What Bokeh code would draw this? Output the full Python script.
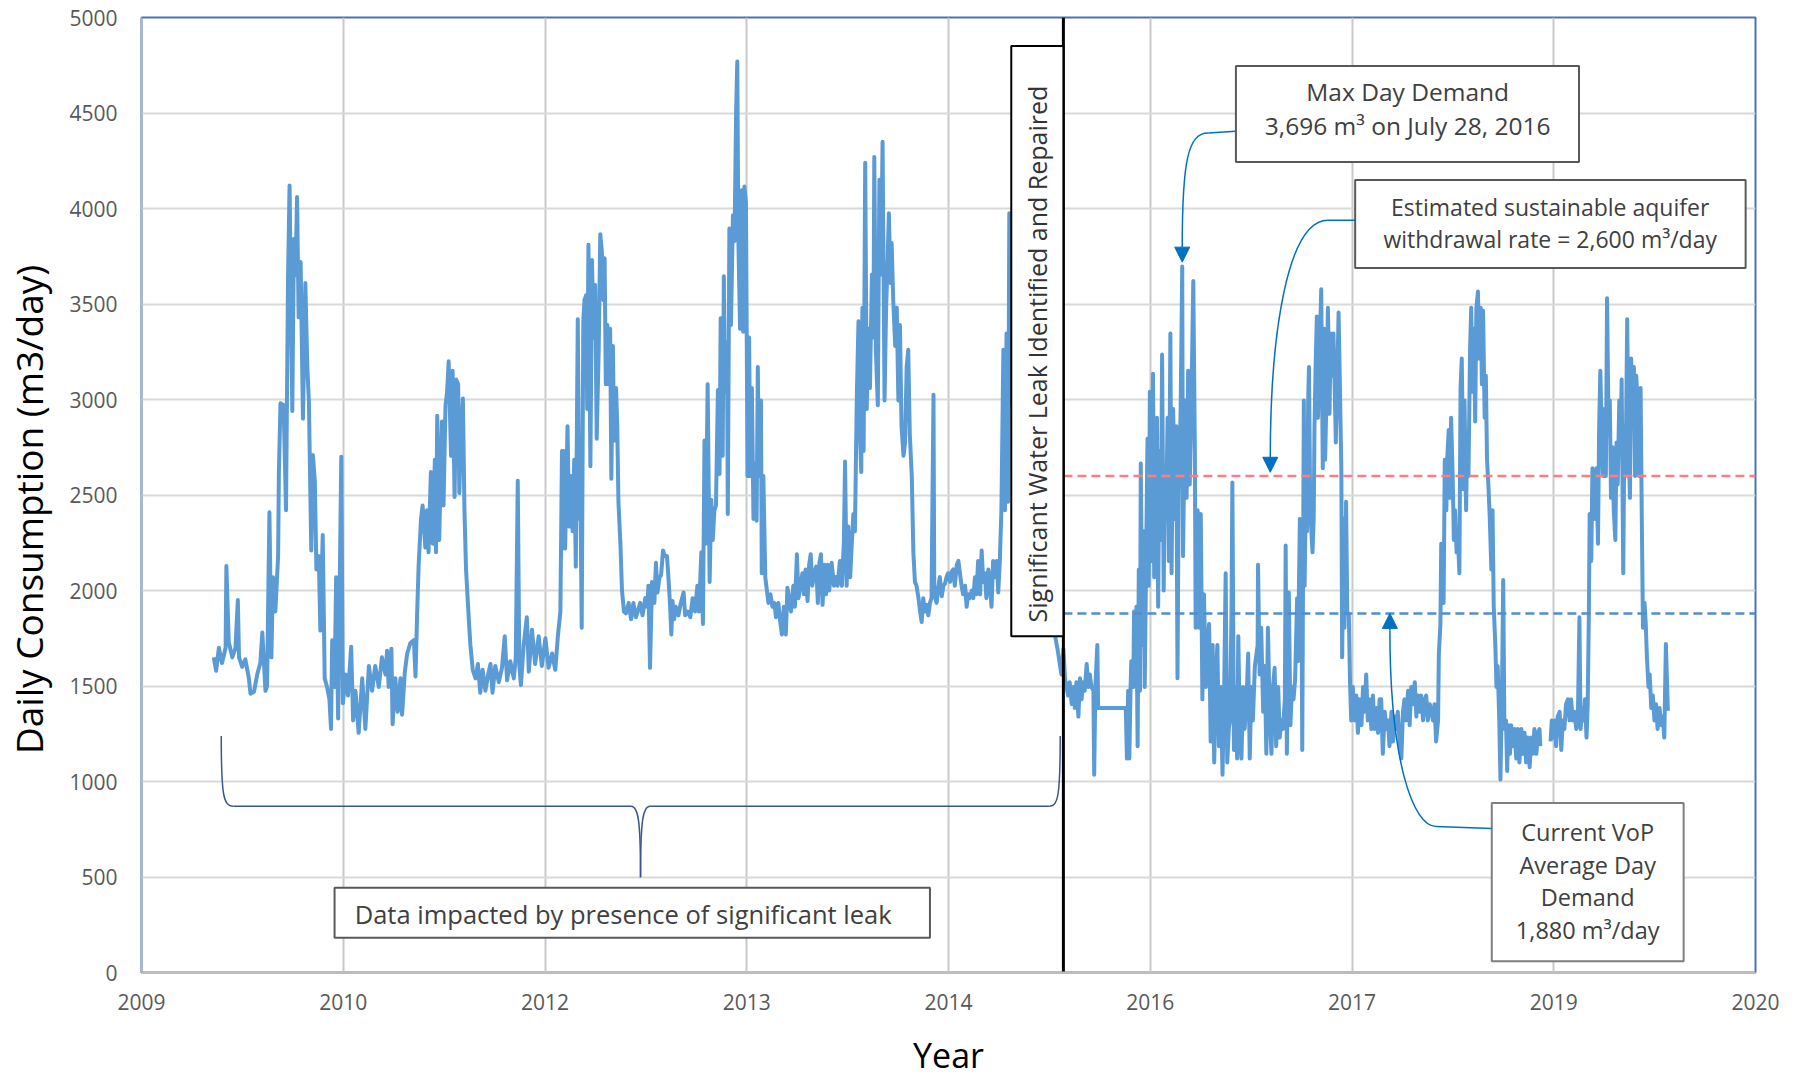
import numpy as np
import pandas as pd
from bokeh.plotting import figure
from bokeh.models import (Range1d, FixedTicker, DatetimeTickFormatter, ColumnDataSource,
                          Arrow, NormalHead)
from bokeh.embed import file_html
from bokeh.resources import INLINE
from bokeh.core.properties import value

# ---------------- data ----------------
AXIS_START = "2009-05-05"        # first axis tick (axis origin)
TICK_STEP_DAYS = 511              # spacing of the x-axis ticks
N_TICKS = 9
Y_TICKS = [0, 500, 1000, 1500, 2000, 2500, 3000, 3500, 4000, 4500, 5000]

# daily consumption (m3/day), sampled readings; x = days after AXIS_START
days_2010_2011 = [183,189,196,204,213,215,221,230,238,244,247,255,263,272,276,285,293,301,306,314,
    318,324,329,333,339,346,348,352,360,366,371,375,382,386,390,394,398,403,409,415,
    420,424,430,434,439,443,449,453,459,464,470,476,480,483,489,493,498,506,510,517,
    523,531,536,542,550,559,567,576,584,592,601,609,618,622,626,633,636,643,649,656,
    660,667,673,681,690,694,698,702,708,712,719,723,727,733,738,743,746,749,754,761,
    765,770,774,778,784,788,793,797,802,805,809,814,818,822,829,833,839,846,852,858,
    864,871,878,884,889,896,905,913,920,926,934,943,948,953,957,961,968,976,981,989,
    997,1006,1014,1023,1031,1040,1048,1055]
vals_2010_2011 = [1650,1580,1700,1620,1700,2128,1730,1650,1700,1950,1650,1600,1640,1540,1460,1470,1560,1620,1780,1475,
    1500,2410,1650,2070,1890,2180,2620,2980,2970,2420,3610,4120,2940,3840,3650,4060,3430,3720,2900,3610,
    3170,2990,2210,2710,2575,2110,2180,1790,2290,1540,1495,1430,1275,1740,1495,2070,1330,2700,1410,1560,
    1450,1705,1320,1475,1255,1540,1275,1605,1475,1605,1495,1650,1560,1685,1495,1695,1300,1540,1365,1540,
    1350,1575,1670,1725,1740,1550,1870,2135,2375,2445,2225,2420,2200,2620,2245,2685,2200,2915,2265,2885,
    2445,2970,3040,3200,2705,3150,2490,3105,3080,2510,2815,3005,2420,2110,1850,1715,1585,1540,1615,1465,
    1585,1475,1560,1615,1465,1605,1520,1595,1760,1530,1630,1540,1650,2575,1605,1505,1715,1860,1575,1795,
    1615,1760,1605,1750,1595,1670,1585,1770]

days_2012_2013 = [1061,1065,1067,1069,1073,1079,1083,1088,1092,1096,1100,1105,1109,1111,1115,1119,1122,1126,1129,1132,
    1137,1141,1145,1149,1153,1158,1162,1166,1170,1173,1176,1180,1183,1187,1190,1194,1197,1202,1205,1208,
    1213,1217,1222,1227,1234,1240,1246,1252,1257,1263,1269,1276,1281,1284,1288,1293,1299,1303,1307,1312,
    1316,1321,1325,1331,1335,1339,1342,1345,1349,1353,1360,1366,1373,1377,1384,1390,1396,1402,1408,1412,
    1418,1422,1426,1429,1434,1439,1443,1447,1451,1455,1460,1464,1467,1472,1475,1478,1483,1485,1489,1493,
    1498,1502,1506,1509,1512,1516,1520,1524,1527,1531,1535,1539,1542,1546,1550,1554,1558,1561,1564,1569,
    1571,1575,1580,1584,1588,1593,1598,1603,1607,1613,1617,1622,1627,1632,1636,1640,1645,1651,1655,1660,
    1664,1669,1674,1678,1682,1687,1691,1695,1699,1704,1709,1713,1717,1721,1725,1730,1734,1738,1742,1748,
    1754,1759,1763,1769,1774,1779,1782,1786,1790,1795,1799,1803,1807,1812,1816,1820,1823,1826,1829,1833,
    1837,1841,1845,1850,1854,1856,1860,1865,1869,1873,1877,1882,1886,1890,1893,1897,1900,1904,1909,1913,
    1917,1921,1925,1930,1934,1938]
vals_2012_2013 = [1890,2730,2220,2730,2220,2860,2335,2600,2310,2685,2125,3420,2375,2665,1805,3410,3520,3545,2950,3810,
    2650,3730,3325,3600,2795,3260,3865,3775,3520,3740,3080,3390,3080,3370,2585,3280,2785,3060,2860,2465,
    2245,2000,1890,1880,1935,1850,1935,1860,1890,1935,1870,1960,1915,2025,1595,2045,1935,2145,1990,2070,
    2080,2210,2180,2180,2055,1915,1770,1945,1850,1915,1870,1935,1990,1870,1890,1860,1960,1890,2025,1890,
    2200,1825,2785,2245,3080,2045,2475,2265,2420,2445,3050,2610,3425,2705,3645,3040,3300,2400,3895,3390,
    3965,3830,4500,4770,3810,3370,4095,3355,4115,4030,2600,3325,2600,3060,2375,2665,2365,3170,2600,2995,
    2090,2600,2070,2000,1935,1980,1915,1935,1860,1935,1850,1770,1915,1770,2015,1960,1890,2025,1915,2190,
    1960,2025,2090,1980,2110,1945,2135,2190,2025,2090,2125,1935,2145,2190,1925,2135,1980,2135,2000,2145,
    2025,2070,2025,2155,2025,2255,2675,2025,2335,2070,2245,2400,2310,3040,3410,2815,2620,3480,2730,4240,
    2950,3370,3060,3655,3325,4270,3260,2970,4150,3655,4350,2995,3480,3740,3975,3610,3820,3520,3280,3480,
    2995,3390,2860,2705,2775,3170]

days_2014_2016 = [1942,1946,1951,1955,1959,1963,1968,1972,1976,1980,1984,1989,1993,1997,2001,2006,2008,2014,2018,2022,
    2027,2031,2035,2039,2043,2048,2052,2056,2060,2065,2069,2073,2077,2081,2086,2090,2094,2098,2103,2107,
    2111,2115,2119,2124,2128,2132,2136,2140,2145,2149,2153,2157,2162,2166,2170,2174,2178,2183,2187,2191,
    2195,2198,2200,2320,2330,2335,2339,2343,2347,2351,2356,2360,2364,2368,2373,2377,2381,2385,2389,2394,
    2398,2402,2406,2411,2413,2416,2421,2423,2493,2496,2499,2502,2505,2507,2512,2514,2518,2520,2523,2526,
    2529,2531,2535,2538,2541,2545,2548,2551,2554,2558,2562,2565,2568,2572,2575,2578,2582,2585,2589,2592,
    2595,2599,2602,2606,2609,2613,2617,2621,2624,2627,2632,2636,2638,2643,2647,2651,2655,2659,2664,2668,
    2670,2675,2679,2683,2687,2691,2696,2700,2704,2708,2713,2717,2721,2725,2729,2734,2738,2742,2746,2750,
    2754,2757,2761,2763,2767,2771,2775,2778,2782,2786,2790,2794,2799,2803,2807,2811,2815,2820,2827]
vals_2014_2016 = [3260,2815,2600,2200,2045,2025,1960,1890,1835,1960,1890,1925,1870,1935,1960,3025,1980,1935,2015,2070,
    1970,2025,2035,2070,2090,2045,2100,2110,2025,2135,2155,2090,2025,1980,2025,1915,1980,1960,2000,1960,
    2070,1980,2155,1980,2210,2045,2090,1960,2110,2025,1915,2155,2070,2155,1990,2155,2420,3260,2420,3345,
    2465,3975,3040,1695,1560,1695,1540,1495,1450,1520,1405,1495,1385,1520,1340,1540,1430,1520,1475,1615,
    1495,1560,1495,1475,1035,1495,1715,1385,1385,1120,1475,1120,1475,1630,1495,1890,1630,1915,1185,2110,
    1475,2665,1715,2310,1495,2245,2795,2025,3040,2155,3135,2070,2265,2905,1915,2730,2265,3235,2000,2600,
    2375,2905,2155,3345,2090,2950,2375,2860,1540,2510,2950,3696,2180,2995,2485,3150,2555,2950,3620,2730,
    1805,2420,1805,2400,1430,1980,1495,1715,1825,1210,1715,1100,1540,1715,1185,1495,1035,1450,2090,1100,
    1275,1320,1935,2565,1165,1495,1120,1760,1275,1120,1495,1275,1430,1670,1120,1495,1320,1605,1715]

days_2017_2018 = [2828,2832,2836,2841,2845,2849,2853,2858,2862,2866,2870,2874,2879,2883,2887,2891,2896,2898,2901,2906,
    2910,2914,2918,2922,2927,2929,2934,2938,2940,2944,2946,2949,2952,2955,2957,2960,2963,2966,2969,2971,
    2974,2977,2980,2982,2986,2988,2992,2995,2998,3002,3005,3009,3012,3015,3019,3022,3025,3029,3032,3036,
    3039,3041,3045,3047,3051,3054,3058,3061,3064,3068,3073,3077,3081,3085,3090,3094,3098,3102,3106,3111,
    3115,3119,3123,3128,3132,3136,3140,3144,3149,3153,3157,3161,3166,3170,3174,3178,3182,3187,3191,3195,
    3199,3203,3208,3212,3216,3220,3225,3229,3233,3237,3241,3246,3250,3254,3258,3263,3267,3271,3275,3279,
    3284,3286,3290,3292,3295,3298,3301,3305,3307,3311,3314,3317,3321,3324,3327,3331,3334,3338,3341,3344,
    3348,3351,3355,3358,3361,3365,3368,3371,3375,3378,3381,3385,3388,3392,3395,3398,3402,3405,3408,3412,
    3415,3419,3422,3425,3429,3432,3435,3439,3442,3446,3449,3452,3456,3459,3462,3466,3469,3473,3478,3482,
    3486,3490,3495,3499,3503,3507,3511,3516,3520,3524,3528,3533,3537,3541,3543]
vals_2017_2018 = [2135,1560,1805,1365,1605,1145,1805,1320,1145,1495,1595,1185,1495,1230,1320,1275,1430,2235,1145,1990,
    1295,1495,1430,1540,1960,1630,2375,2045,1165,2995,2025,2510,2310,2995,3170,2465,2310,2200,2375,2860,
    3190,3435,2905,3125,3410,3577,2640,3370,2685,3080,3480,2925,3345,3125,3345,3080,2775,3125,3455,2995,
    2640,1650,2375,1805,2465,1890,1870,1520,1320,1495,1320,1450,1255,1430,1295,1495,1365,1560,1320,1430,
    1275,1450,1275,1385,1255,1430,1430,1145,1365,1275,1320,1185,1365,1210,1340,1275,1365,1185,1120,1365,
    1430,1320,1475,1295,1495,1405,1520,1340,1450,1365,1450,1320,1430,1450,1320,1405,1365,1320,1405,1210,
    1320,1670,1825,2245,1980,1935,2685,2420,2685,2840,2485,2905,2600,2265,2420,2200,2290,2090,3060,3215,
    2530,2995,2420,2815,2600,3260,3480,3040,3370,2885,3480,3565,3215,3480,3080,3465,2905,3125,2685,2530,
    2375,2110,2420,1915,1715,1495,1605,1320,1010,1495,2055,1275,1320,1055,1295,1145,1295,1185,1275,1120,
    1275,1100,1275,1145,1255,1100,1230,1075,1230,1145,1275,1145,1255,1275,1185]

days_2019 = [3569,3572,3576,3579,3583,3587,3592,3596,3600,3604,3608,3613,3617,3621,3625,3629,3634,3638,3642,3645,
    3649,3653,3656,3660,3663,3666,3668,3672,3675,3679,3682,3685,3689,3692,3695,3699,3702,3705,3709,3712,
    3716,3719,3722,3726,3729,3733,3736,3739,3743,3746,3749,3753,3756,3759,3763,3766,3770,3773,3776,3780,
    3783,3786,3790,3793,3797,3800,3803,3807,3810,3813,3817,3820,3824,3828,3832,3836,3840,3845,3849,3853,
    3857,3861,3866]
vals_2019 = [1210,1320,1230,1320,1185,1340,1365,1165,1320,1275,1405,1430,1320,1430,1320,1365,1275,1320,1860,1275,
    1385,1320,1430,1230,1405,1890,2400,2155,2640,2465,2375,2640,2245,2860,3150,2775,2600,2950,2600,3530,
    2815,2995,2485,2750,2420,2265,2775,2555,2995,2750,3105,2090,2860,2600,3420,2815,2485,3215,2950,3170,
    2600,3125,2950,2600,3060,2375,1805,1935,1825,1650,1495,1560,1385,1450,1320,1405,1275,1385,1295,1340,
    1230,1720,1370]

LEAK_REPAIR_DATE = "2015-09-26"
SUSTAINABLE_RATE = 2600     # m3/day
AVERAGE_DAY_DEMAND = 1880   # m3/day

# ---------------- helpers ----------------
base = pd.Timestamp(AXIS_START)
epoch = pd.Timestamp("1970-01-01")


def ms(days):
    return ((base - epoch).total_seconds() + float(days) * 86400.0) * 1000.0


def ms_date(s):
    return (pd.Timestamp(s) - epoch).total_seconds() * 1000.0


x_all, y_all = [], []
segments = [(days_2010_2011, vals_2010_2011), (days_2012_2013, vals_2012_2013),
            (days_2014_2016, vals_2014_2016), (days_2017_2018, vals_2017_2018)]
for d, v in segments:
    x_all += [ms(t) for t in d]
    y_all += list(v)
# gap in the record before 2019
x_all.append(ms((days_2017_2018[-1] + days_2019[0]) / 2))
y_all.append(np.nan)
x_all += [ms(t) for t in days_2019]
y_all += list(vals_2019)
src = ColumnDataSource(dict(x=x_all, y=y_all))

x_lo = ms(0)
x_hi = ms(TICK_STEP_DAYS * (N_TICKS - 1))
leak = ms_date(LEAK_REPAIR_DATE)

FRAME_W, FRAME_H = 1614, 955
p = figure(frame_width=FRAME_W, frame_height=FRAME_H, x_axis_type="datetime",
           x_range=Range1d(x_lo, x_hi), y_range=Range1d(0, 5000),
           output_backend="svg", toolbar_location=None,
           min_border_left=139, min_border_right=34, min_border_top=17, min_border_bottom=0)
p.background_fill_color = "white"
p.border_fill_color = "white"
p.outline_line_color = "#4A73B0"
p.outline_line_width = 2

# axes
p.xaxis.ticker = FixedTicker(ticks=[ms(k * TICK_STEP_DAYS) for k in range(N_TICKS)])
fmt = "%Y"
p.xaxis.formatter = DatetimeTickFormatter(years=fmt, months=fmt, days=fmt, hours=fmt, hourmin=fmt,
                                          minutes=fmt, minsec=fmt, seconds=fmt,
                                          milliseconds=fmt, microseconds=fmt)
p.yaxis.ticker = FixedTicker(ticks=Y_TICKS)
for ax in (p.xaxis, p.yaxis):
    ax.major_tick_line_color = None
    ax.minor_tick_line_color = None
    ax.major_label_text_font = "Open Sans"
    ax.major_label_text_font_size = "21px"
    ax.major_label_text_color = "#595959"
    ax.axis_label_text_font = "Open Sans"
    ax.axis_label_text_font_style = "normal"
    ax.axis_label_text_color = "#000000"
    ax.axis_line_width = 2
p.xaxis.axis_line_color = "#BFBFBF"
p.yaxis.axis_line_color = "#A9B7C9"
p.xaxis.axis_label = "Year"
p.xaxis.axis_label_text_font_size = "34px"
p.xaxis.major_label_standoff = 15
p.xaxis.axis_label_standoff = 19
# trailing no-break spaces nudge the rotated title slightly downward, as in the original
p.yaxis.axis_label = "Daily Consumption (m3/day)\u00a0\u00a0\u00a0"
p.yaxis.axis_label_text_font_size = "37px"
p.yaxis.major_label_standoff = 18
p.yaxis.axis_label_standoff = 12

p.xgrid.grid_line_color = "#C9C9C9"
p.xgrid.grid_line_width = 2
p.ygrid.grid_line_color = "#D9D9D9"
p.ygrid.grid_line_width = 2

# data series
p.line("x", "y", source=src, line_color="#5B9BD5", line_width=4, line_join="round")

# reference lines after repair
p.segment(x0=[leak], y0=[SUSTAINABLE_RATE], x1=[x_hi], y1=[SUSTAINABLE_RATE],
          line_color="#FF7C80", line_width=2.5, line_dash="9 5")
p.segment(x0=[leak], y0=[AVERAGE_DAY_DEMAND], x1=[x_hi], y1=[AVERAGE_DAY_DEMAND],
          line_color="#4F8FD0", line_width=2.5, line_dash="9 5")

# leak repair vertical line
p.segment(x0=[leak], y0=[0], x1=[leak], y1=[5000], line_color="black", line_width=3)

FONT = value("Open Sans")
TXT = "#404040"

# leak box with rotated text
p.quad(left=[ms(2203)], right=[leak], top=[4851], bottom=[1760],
       fill_color="white", line_color="black", line_width=2)
p.text(x=[ms(2268)], y=[3255], text=["Significant Water Leak Identified  and Repaired"],
       angle=np.pi / 2, text_font=FONT, text_font_size="25px", text_color="#333333",
       text_align="center", text_baseline="middle")

# max day box
p.quad(left=[ms(2772)], right=[ms(3641)], top=[4746], bottom=[4243],
       fill_color="white", line_color="#595959", line_width=2)
p.text(x=[ms(3207), ms(3207)], y=[4610, 4434],
       text=["Max Day Demand", "3,696 m\u00b3 on July 28, 2016"],
       text_font=FONT, text_font_size="24.5px", text_color=TXT,
       text_align="center", text_baseline="middle")

# sustainable rate box
p.quad(left=[ms(3074)], right=[ms(4063)], top=[4149], bottom=[3688],
       fill_color="white", line_color="#595959", line_width=2)
p.text(x=[ms(3568), ms(3568)], y=[4009, 3838],
       text=["Estimated sustainable aquifer", "withdrawal rate = 2,600 m\u00b3/day"],
       text_font=FONT, text_font_size="23px", text_color=TXT,
       text_align="center", text_baseline="middle")

# average day demand box
p.quad(left=[ms(3420)], right=[ms(3906)], top=[887], bottom=[59],
       fill_color="white", line_color="#7F7F7F", line_width=2)
p.text(x=[ms(3663)] * 4, y=[735, 564, 394, 225],
       text=["Current VoP", "Average Day", "Demand", "1,880 m\u00b3/day"],
       text_font=FONT, text_font_size="23.5px", text_color=TXT,
       text_align="center", text_baseline="middle")

# leak-impacted data box
p.quad(left=[ms(489)], right=[ms(1997)], top=[444], bottom=[182],
       fill_color="white", line_color="#595959", line_width=2)
p.text(x=[ms(540)], y=[308], text=["Data impacted by presence of significant leak"],
       text_font=FONT, text_font_size="25.5px", text_color=TXT,
       text_align="left", text_baseline="middle")

# curly brace under the leak period
BR = "#3A5590"
p.bezier(x0=[ms(202), ms(1240), ms(1288), ms(2299)],
         y0=[1238, 870, 870, 870],
         x1=[ms(233), ms(1264), ms(1264), ms(2327)],
         y1=[870, 499, 499, 1238],
         cx0=[ms(202), ms(1258), ms(1270), ms(2322)],
         cy0=[930, 870, 870, 870],
         cx1=[ms(207), ms(1264), ms(1264), ms(2327)],
         cy1=[870, 800, 800, 930],
         line_color=BR, line_width=1.5)
p.segment(x0=[ms(233), ms(1288)], y0=[870, 870], x1=[ms(1240), ms(2299)], y1=[870, 870],
          line_color=BR, line_width=1.5)

# connectors with arrowheads
CN = "#0070C0"
p.segment(x0=[ms(2772), ms(3074), ms(3420)], y0=[4405, 3939, 754],
          x1=[ms(2702), ms(3005), ms(3279)], y1=[4395, 3939, 765],
          line_color=CN, line_width=1.5)
p.bezier(x0=[ms(2702), ms(3005), ms(3279)], y0=[4395, 3939, 765],
         x1=[ms(2636), ms(2859), ms(3162)], y1=[3798, 2692, 1792],
         cx0=[ms(2651), ms(2904), ms(3220)], cy0=[4395, 3939, 765],
         cx1=[ms(2636), ms(2859), ms(3162)], cy1=[4254, 3363, 1110],
         line_color=CN, line_width=1.5)
for xs, ys, ye in [(2636, 3798, 3719), (2859, 2692, 2619), (3162, 1792, 1880)]:
    p.add_layout(Arrow(end=NormalHead(size=15, fill_color=CN, line_color=CN, line_width=1),
                       x_start=ms(xs), y_start=ys, x_end=ms(xs), y_end=ye,
                       line_color=CN, line_width=1.5))

open("out.html", "w").write(file_html(p, INLINE))
